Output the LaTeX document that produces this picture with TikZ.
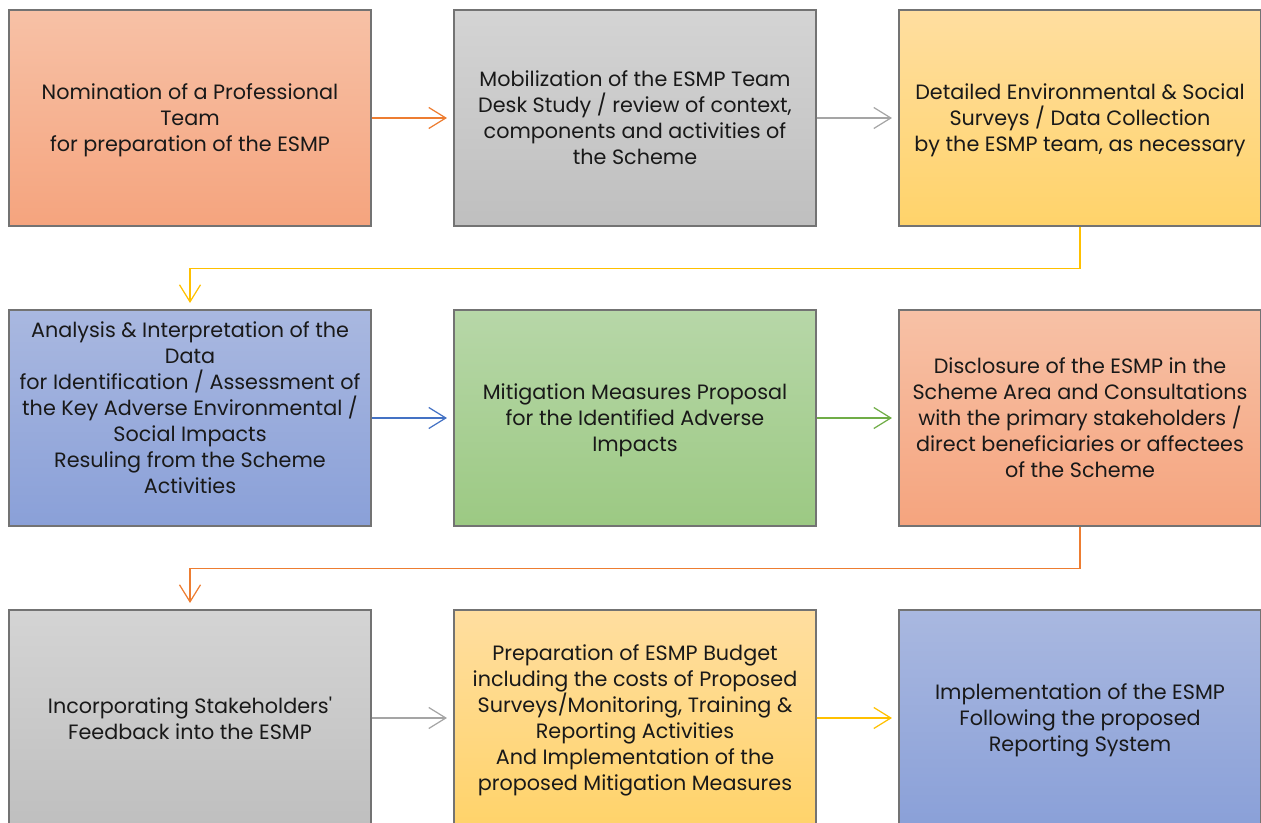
\documentclass[tikz,border=0pt]{standalone}
\usepackage{fontspec}
\setmainfont{Poppins}
\usetikzlibrary{arrows.meta}

\definecolor{accorange}{HTML}{ED7D31}
\definecolor{accgray}{HTML}{A5A5A5}
\definecolor{accyellow}{HTML}{FFC000}
\definecolor{accblue}{HTML}{4472C4}
\definecolor{accgreen}{HTML}{70AD47}

\begin{document}
\begin{tikzpicture}[
    stage/.style={rectangle, draw=gray!90!black, line width=0.6pt,
      minimum width=7.24cm, minimum height=4.32cm, align=center, text depth=-0.12cm,
      font=\fontsize{11.8}{14.8}\selectfont, text=black!90},
    orangebox/.style={stage, top color={rgb,255:red,247;green,193;blue,166}, bottom color={rgb,255:red,245;green,164;blue,126}},
    graybox/.style={stage, top color={rgb,255:red,212;green,212;blue,212}, bottom color={rgb,255:red,191;green,191;blue,191}},
    yellowbox/.style={stage, top color={rgb,255:red,255;green,222;blue,160}, bottom color={rgb,255:red,255;green,211;blue,106}},
    bluebox/.style={stage, top color={rgb,255:red,169;green,184;blue,224}, bottom color={rgb,255:red,138;green,160;blue,216}},
    greenbox/.style={stage, top color={rgb,255:red,183;green,215;blue,168}, bottom color={rgb,255:red,156;green,201;blue,131}},
    flow/.style={line width=0.7pt, -{Straight Barb[length=0.34cm,width=0.42cm]}, shorten >=0.13cm}
  ]
  \clip (0,0) rectangle (25.22,-16.46);

  % Define stages
  \node[orangebox] (nominate) at (3.80,-2.36) {Nomination of a Professional\\Team\\for preparation of the ESMP};
  \node[graybox] (mobilize) at (12.70,-2.36) {Mobilization of the ESMP Team\\Desk Study / review of context,\\components and activities of\\the Scheme};
  \node[yellowbox] (survey) at (21.60,-2.36) {Detailed Environmental \& Social\\Surveys / Data Collection\\by the ESMP team, as necessary};

  \node[bluebox, text depth=0.42cm] (analysis) at (3.80,-8.36) {Analysis \& Interpretation of the\\Data\\for Identification / Assessment of\\the Key Adverse Environmental /\\Social Impacts\\Resuling from the Scheme\\Activities};
  \node[greenbox] (mitigate) at (12.70,-8.36) {Mitigation Measures Proposal\\for the Identified Adverse\\Impacts};
  \node[orangebox] (disclose) at (21.60,-8.36) {Disclosure of the ESMP in the\\Scheme Area and Consultations\\with the primary stakeholders /\\direct beneficiaries or affectees\\of the Scheme};

  \node[graybox] (feedback) at (3.80,-14.36) {Incorporating Stakeholders\textquotesingle\\Feedback into the ESMP};
  \node[yellowbox] (budget) at (12.70,-14.36) {Preparation of ESMP Budget\\including the costs of Proposed\\Surveys/Monitoring, Training \&\\Reporting Activities\\And Implementation of the\\proposed Mitigation Measures};
  \node[bluebox] (implement) at (21.60,-14.36) {Implementation of the ESMP\\Following the proposed\\Reporting System};

  % Draw edges with arrows
  \draw[flow, accorange] (nominate) -- (mobilize);
  \draw[flow, accgray] (mobilize) -- (survey);
  \draw[flow, accyellow] (survey.south) -- ++(0,-0.84) -| (analysis.north);
  \draw[flow, accblue] (analysis) -- (mitigate);
  \draw[flow, accgreen] (mitigate) -- (disclose);
  \draw[flow, accorange] (disclose.south) -- ++(0,-0.84) -| (feedback.north);
  \draw[flow, accgray] (feedback) -- (budget);
  \draw[flow, accyellow] (budget) -- (implement);
\end{tikzpicture}
\end{document}
